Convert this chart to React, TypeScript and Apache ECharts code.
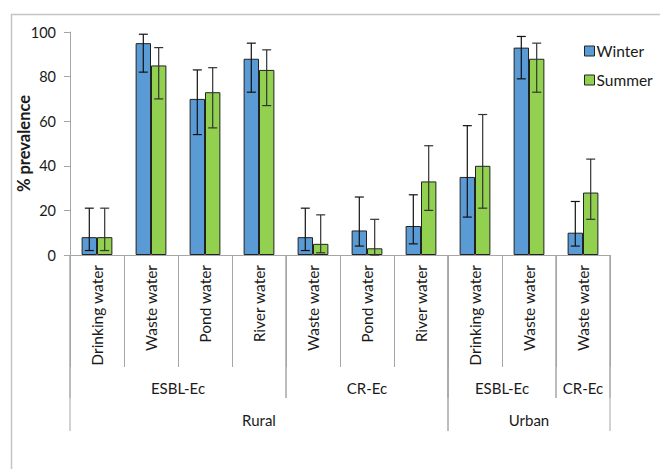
import React, { useEffect, useRef } from "react";
import * as echarts from "echarts";

const categories = ["Drinking water", "Waste water", "Pond water", "River water", "Waste water", "Pond water", "River water", "Drinking water", "Waste water", "Waste water"];
const winter = [8, 95, 70, 88, 8, 11, 13, 35, 93, 10];
const winterLow = [2, 82, 54, 73, 2, 4, 5, 17, 79, 4];
const winterHigh = [21, 99, 83, 95, 21, 26, 27, 58, 98, 24];
const summer = [8, 85, 73, 83, 5, 3, 33, 40, 88, 28];
const summerLow = [2, 70, 57, 67, 1, 0, 20, 21, 73, 16];
const summerHigh = [21, 93, 84, 92, 18, 16, 49, 63, 95, 43];
const level2Labels = ["ESBL-Ec", "CR-Ec", "ESBL-Ec", "CR-Ec"];
const level2Spans = [[0, 3], [4, 6], [7, 8], [9, 9]];
const level3Labels = ["Rural", "Urban"];
const level3Spans = [[0, 6], [7, 9]];
const yTicks = [0, 20, 40, 60, 80, 100];

const FONT = "Lato, 'Open Sans', sans-serif";
const GAP = 0.43;

export default function App() {
  const ref = useRef<HTMLDivElement>(null);
  useEffect(() => {
    if (!ref.current) return;
    const chart = echarts.init(ref.current, undefined, { renderer: "svg" });

    const errSeries = (name: string, lows: number[], highs: number[], sign: number, color: string) => ({
      type: "custom",
      name: name + "-err",
      z: 5,
      silent: true,
      data: categories.map((_, i) => [i, lows[i], highs[i]]),
      renderItem: (params: any, api: any) => {
        const i = api.value(0);
        const lo = api.coord([i, api.value(1)]);
        const hi = api.coord([i, api.value(2)]);
        const band = api.size([1, 0])[0];
        const bw = (band * (1 - GAP)) / 2;
        const x = lo[0] + (sign * bw) / 2;
        const cap = 4.5;
        const st = { stroke: color, lineWidth: 1.2 };
        return {
          type: "group",
          children: [
            { type: "line", shape: { x1: x, y1: lo[1], x2: x, y2: hi[1] }, style: st },
            { type: "line", shape: { x1: x - cap, y1: hi[1], x2: x + cap, y2: hi[1] }, style: st },
            { type: "line", shape: { x1: x - cap, y1: lo[1], x2: x + cap, y2: lo[1] }, style: st },
          ],
        };
      },
    });

    const groupSeries = (labels: string[], spans: number[][], lineBottom: number, labelY: number) => ({
      type: "custom",
      silent: true,
      z: 4,
      clip: false,
      data: spans.map((s) => [s[0], s[1]]),
      renderItem: (params: any, api: any) => {
        const s = spans[params.dataIndex];
        const band = api.size([1, 0])[0];
        const a = api.coord([s[0], 0]);
        const b = api.coord([s[1], 0]);
        const left = a[0] - band / 2;
        const right = b[0] + band / 2;
        const y0 = a[1];
        const st = { stroke: "#a6a6a6", lineWidth: 1 };
        return {
          type: "group",
          children: [
            { type: "line", shape: { x1: left, y1: y0, x2: left, y2: y0 + lineBottom }, style: st },
            { type: "line", shape: { x1: right, y1: y0, x2: right, y2: y0 + lineBottom }, style: st },
            {
              type: "text",
              x: (left + right) / 2,
              y: y0 + labelY,
              style: {
                text: labels[params.dataIndex],
                fill: "#1a1a1a",
                font: `15px ${FONT}`,
                align: "center",
                verticalAlign: "middle",
              },
            },
          ],
        };
      },
    });

    chart.setOption({
      animation: false,
      backgroundColor: "#ffffff",
      graphic: [
        {
          type: "rect",
          silent: true,
          z: -10,
          shape: { x: 11.5, y: 14.5, width: 700, height: 500 },
          style: { fill: "none", stroke: "#c4c4c4", lineWidth: 1.5 },
        },
      ],
      grid: { left: 70, right: 50, top: 32, bottom: 214, containLabel: false, outerBoundsMode: "none" },
      legend: {
        data: ["Winter", "Summer"],
        orient: "vertical",
        left: 579,
        top: 38,
        itemWidth: 10,
        itemHeight: 10,
        itemGap: 13,
        icon: "rect",
        itemStyle: { borderColor: "#222", borderWidth: 1 },
        textStyle: { fontFamily: FONT, fontSize: 15.5, color: "#1a1a1a", padding: [0, 0, 0, -3] },
      },
      xAxis: {
        type: "category",
        data: categories,
        axisLine: { lineStyle: { color: "#a6a6a6", width: 1 } },
        axisTick: { show: true, interval: 0, length: 112, lineStyle: { color: "#a6a6a6" } },
        axisLabel: { interval: 0, rotate: 90, margin: 10, fontFamily: FONT, fontSize: 15.5, color: "#1a1a1a" },
      },
      yAxis: {
        type: "value",
        min: 0,
        max: 100,
        interval: 20,
        name: "% prevalence",
        nameLocation: "middle",
        nameGap: 38,
        nameMoveOverlap: false,
        nameRotate: 90,
        nameTextStyle: { fontFamily: FONT, fontSize: 16.5, fontWeight: "bold", color: "#1a1a1a" },
        splitLine: { show: false },
        axisLine: { show: true, lineStyle: { color: "#a6a6a6" } },
        axisTick: { show: true, length: 6, lineStyle: { color: "#a6a6a6" } },
        axisLabel: {
          margin: 14,
          fontFamily: FONT,
          fontSize: 14.5,
          color: "#1a1a1a",
          formatter: (v: number) => (yTicks.includes(v) ? String(v) : ""),
        },
      },
      series: [
        {
          name: "Winter",
          type: "bar",
          data: winter,
          barGap: "0%",
          barCategoryGap: GAP * 100 + "%",
          itemStyle: { color: "#5b9bd5", borderColor: "#222", borderWidth: 1 },
        },
        {
          name: "Summer",
          type: "bar",
          data: summer,
          itemStyle: { color: "#92d050", borderColor: "#222", borderWidth: 1 },
        },
        errSeries("Winter", winterLow, winterHigh, -1, "#111"),
        errSeries("Summer", summerLow, summerHigh, 1, "#333"),
        groupSeries(level2Labels, level2Spans, 143, 133),
        groupSeries(level3Labels, level3Spans, 176, 165),
      ],
    });
    return () => chart.dispose();
  }, []);
  return <div ref={ref} style={{ position: "fixed", left: 0, top: 0, width: 660, height: 469 }} />;
}
